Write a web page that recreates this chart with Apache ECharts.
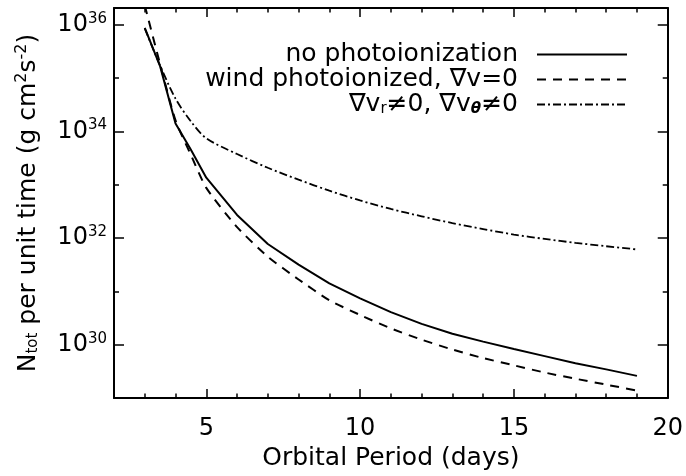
<!DOCTYPE html>
<html>
<head>
<meta charset="utf-8">
<script src="https://cdn.jsdelivr.net/npm/echarts@6/dist/echarts.min.js"></script>
<style>
  html, body { margin: 0; padding: 0; background: #fff; }
  #chart { width: 686px; height: 476px; }
</style>
</head>
<body>
<div id="chart"></div>
<script>
// orbital period (days)
const periods = [3, 3.5, 4, 4.5, 5, 6, 7, 8, 9, 10, 11, 12, 13, 14, 15, 16, 17, 18, 19]

// N_tot per unit time (g cm^2 s^-2)
const noPhoto = [8.7e35, 1.65e35, 1.4e34, 4.5e33, 1.35e33, 2.7e32, 7.7e31, 3.16e31, 1.41e31, 7.4e30,
    4.07e30, 2.45e30, 1.6e30, 1.14e30, 8.3e29, 6.1e29, 4.5e29, 3.44e29, 2.6e29]
const windPhoto = [2.3e36, 1.8e35, 1.6e34, 3.6e33, 8.7e32, 1.6e32, 4.45e31, 1.67e31, 6.8e30, 3.6e30,
    2.02e30, 1.24e30, 8.1e29, 5.6e29, 4.1e29, 3.0e29, 2.3e29, 1.78e29, 1.38e29]
const gradNonZero = [8.5e35, 1.7e35, 4.1e34, 1.53e34, 7.4e33, 3.75e33, 2.07e33, 1.24e33, 7.7e32, 5.05e32,
    3.5e32, 2.55e32, 1.9e32, 1.47e32, 1.16e32, 9.6e31, 8.1e31, 7.0e31, 6.1e31]

const seriesNames = ['no photoionization', 'wind photoionized, ∇v=0', 'grad']

// ticks
const xMajor = [5, 10, 15, 20]
const xMinor = [3, 4, 5, 6, 7, 8, 9, 10, 11, 12, 13, 14, 15, 16, 17, 18, 19]
const yMajor = [1e30, 1e32, 1e34, 1e36]
const yMinor = [1e31, 1e33, 1e35]

const font = 'DejaVu Sans'

const pairs = (ys) => periods.map((p, i) => [p, ys[i]])

const lineAxis = { show: true, lineStyle: { color: '#000', width: 2 } }

function xAx(pos, ticks, len, labels) {
    return {
        type: 'value', min: 2, max: 20, position: pos,
        axisLine: len > 5 ? lineAxis : { show: false },
        axisTick: { show: true, inside: true, length: len, customValues: ticks, lineStyle: { color: '#000', width: 1.5 } },
        axisLabel: labels ? { show: true, customValues: ticks, margin: 19, color: '#000', fontSize: 24, fontFamily: font } : { show: false },
        splitLine: { show: false }
    }
}
function yAx(pos, ticks, len, labels) {
    return {
        type: 'log', logBase: 10, min: 1e29, max: 2.05e36, position: pos,
        axisLine: len > 5 ? lineAxis : { show: false },
        axisTick: { show: true, inside: true, length: len, customValues: ticks, lineStyle: { color: '#000', width: 1.5 } },
        axisLabel: labels ? {
            show: true, customValues: ticks, margin: 7,
            formatter: v => '{b|10}{e|' + Math.round(Math.log10(v)) + '}',
            rich: {
                b: { fontSize: 24, fontFamily: font, color: '#000' },
                e: { fontSize: 15, fontFamily: font, color: '#000', padding: [0, 0, 12, 0] }
            }
        } : { show: false },
        splitLine: { show: false },
        minorTick: { show: false }
    }
}

const xMain = xAx('bottom', xMajor, 9, true)
xMain.name = 'Orbital Period (days)'
xMain.nameLocation = 'middle'
xMain.nameGap = 48
xMain.nameTextStyle = { fontSize: 25, fontFamily: font, color: '#000' }

const yMain = yAx('left', yMajor, 10, true)
yMain.name = '{m|N}{s|tot}{m| per unit time (g cm}{p|2}{m|s}{p|-2}{m|)}'
yMain.nameLocation = 'middle'
yMain.nameGap = 72
yMain.nameTextStyle = {
    rich: {
        m: { fontSize: 25, fontFamily: font, color: '#000' },
        s: { fontSize: 15, fontFamily: font, color: '#000', padding: [10, 0, 0, 0] },
        p: { fontSize: 16, fontFamily: font, color: '#000', padding: [0, 0, 12, 0] }
    }
}

let chart = echarts.init(document.getElementById('chart'), null, { renderer: 'canvas' })
const option = {
    animation: false,
    backgroundColor: '#fff',
    grid: { left: 114, right: 17, top: 8, bottom: 74, containLabel: false },
    legend: {
        data: seriesNames,
        orient: 'vertical',
        align: 'right',
        right: 58,
        top: 42,
        padding: 0,
        itemGap: 0,
        itemWidth: 90,
        itemHeight: 14,
        selectedMode: false,
        itemStyle: { opacity: 0 },
        formatter: name => {
            if (name === 'grad') {
                return '{a|∇v}{s|r}{a|≠0, ∇v}{t|θ}{a|≠0}'
            }
            return '{a|' + name + '}'
        },
        textStyle: {
            padding: [0, 14, 0, 0],
            rich: {
                a: { fontSize: 25, lineHeight: 24, fontFamily: font, color: '#000' },
                s: { fontSize: 15, lineHeight: 14, fontFamily: font, color: '#000', padding: [9, 0, 0, 0] },
                t: { fontSize: 15, lineHeight: 14, fontFamily: font, color: '#000', fontStyle: 'italic', fontWeight: 'bold', padding: [9, 0, 0, 0] }
            }
        }
    },
    xAxis: [xMain, xAx('top', xMajor, 9, false), xAx('top', xMinor, 4.5, false), xAx('bottom', xMinor, 4.5, false)],
    yAxis: [yMain, yAx('right', yMajor, 10, false), yAx('right', yMinor, 5, false), yAx('left', yMinor, 5, false)],
    series: [
        {
            name: seriesNames[0], type: 'line', xAxisIndex: 0, yAxisIndex: 0, symbol: 'none',
            lineStyle: { color: '#000', width: 2, type: 'solid' }, itemStyle: { color: '#000' },
            data: pairs(noPhoto)
        },
        {
            name: seriesNames[1], type: 'line', xAxisIndex: 0, yAxisIndex: 0, symbol: 'none', smooth: 0.2,
            lineStyle: { color: '#000', width: 2, type: [9, 7] }, itemStyle: { color: '#000' },
            data: pairs(windPhoto)
        },
        {
            name: seriesNames[2], type: 'line', xAxisIndex: 0, yAxisIndex: 0, symbol: 'none', smooth: 0.3,
            lineStyle: { color: '#000', width: 1.8, type: [8, 3, 2, 3] }, itemStyle: { color: '#000' },
            data: pairs(gradNonZero)
        }
    ]
}
chart.setOption(option)
</script>
</body>
</html>
